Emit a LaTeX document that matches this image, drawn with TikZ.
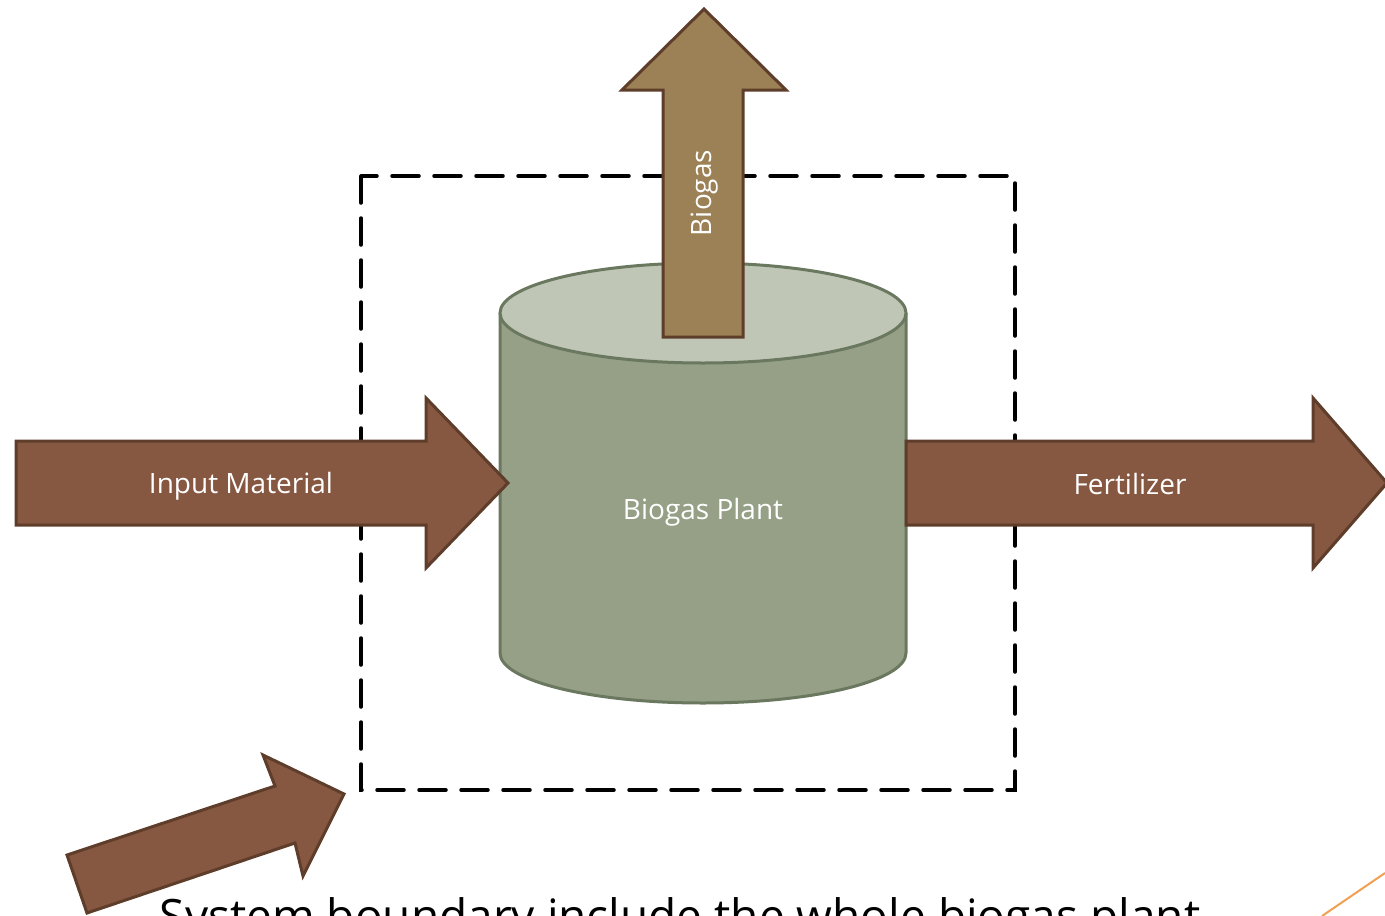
\documentclass[tikz,border=0pt]{standalone}
\usepackage{fontspec}
\setmainfont{Open Sans}
\definecolor{arrowfill}{HTML}{865741}
\definecolor{arrowline}{HTML}{5E3D2A}
\definecolor{gasfill}{HTML}{9B8155}
\definecolor{cylbody}{HTML}{95A086}
\definecolor{cyltop}{HTML}{BFC6B5}
\definecolor{cylline}{HTML}{6B7860}
\definecolor{accent}{HTML}{F0A050}
\tikzset{
  flowarrow/.style={fill=arrowfill, draw=arrowline, line width=3pt, line join=miter},
  gasarrow/.style={fill=gasfill, draw=arrowline, line width=3pt, line join=miter},
  cyl/.style={draw=cylline, line width=3pt},
  lbl/.style={text=white, font=\fontsize{28}{32}\selectfont, inner sep=0pt},
  boundary/.style={draw=black, line width=3.5pt, dash pattern=on 27pt off 15pt, line cap=round}
}
\begin{document}
\begin{tikzpicture}[x=1pt,y=-1pt]
\useasboundingbox (0,0) rectangle (1385,916);
\clip (0,0) rectangle (1385,916);
% system boundary
\draw[boundary] (361,176) rectangle (1015,790);
% cylinder body
\fill[cylbody] (500,313) -- (500,653) arc[start angle=180,end angle=0,x radius=203,y radius=50] -- (906,313) -- cycle;
\draw[cyl] (500,313) -- (500,653) arc[start angle=180,end angle=0,x radius=203,y radius=50] -- (906,313);
\draw[cyl, fill=cyltop] (703,313) ellipse[x radius=203, y radius=50];
\node[lbl] (plant) at (703,512) {Biogas Plant};
% biogas arrow
\draw[gasarrow] (663,337) -- (663,90) -- (622,90) -- (704,9) -- (786,90) -- (743,90) -- (743,337) -- cycle;
\node[lbl, rotate=90] (gas) at (705,193) {Biogas};
% input arrow
\draw[flowarrow] (16,441) -- (426,441) -- (426,398) -- (508,483) -- (426,568) -- (426,525) -- (16,525) -- cycle;
\node[lbl] (input) at (241,486) {Input Material};
% fertilizer arrow
\draw[flowarrow] (906,441) -- (1313,441) -- (1313,398) -- (1387,483) -- (1313,568) -- (1313,525) -- (906,525) -- cycle;
\node[lbl] (fert) at (1130,484) {Fertilizer};
% pointer arrow
\draw[flowarrow] (67,855) -- (275,786) -- (263,755) -- (344,794) -- (303,876) -- (295,843) -- (87,913) -- cycle;
% caption (cut off at the bottom edge, as in the reference)
\node[anchor=north, inner sep=0pt, font=\fontsize{46}{52}\selectfont] (cap) at (680,897) {System boundary include the whole biogas plant};
% accent line
\draw[accent, line width=2pt] (1322,916) -- (1385,873);
\end{tikzpicture}
\end{document}
